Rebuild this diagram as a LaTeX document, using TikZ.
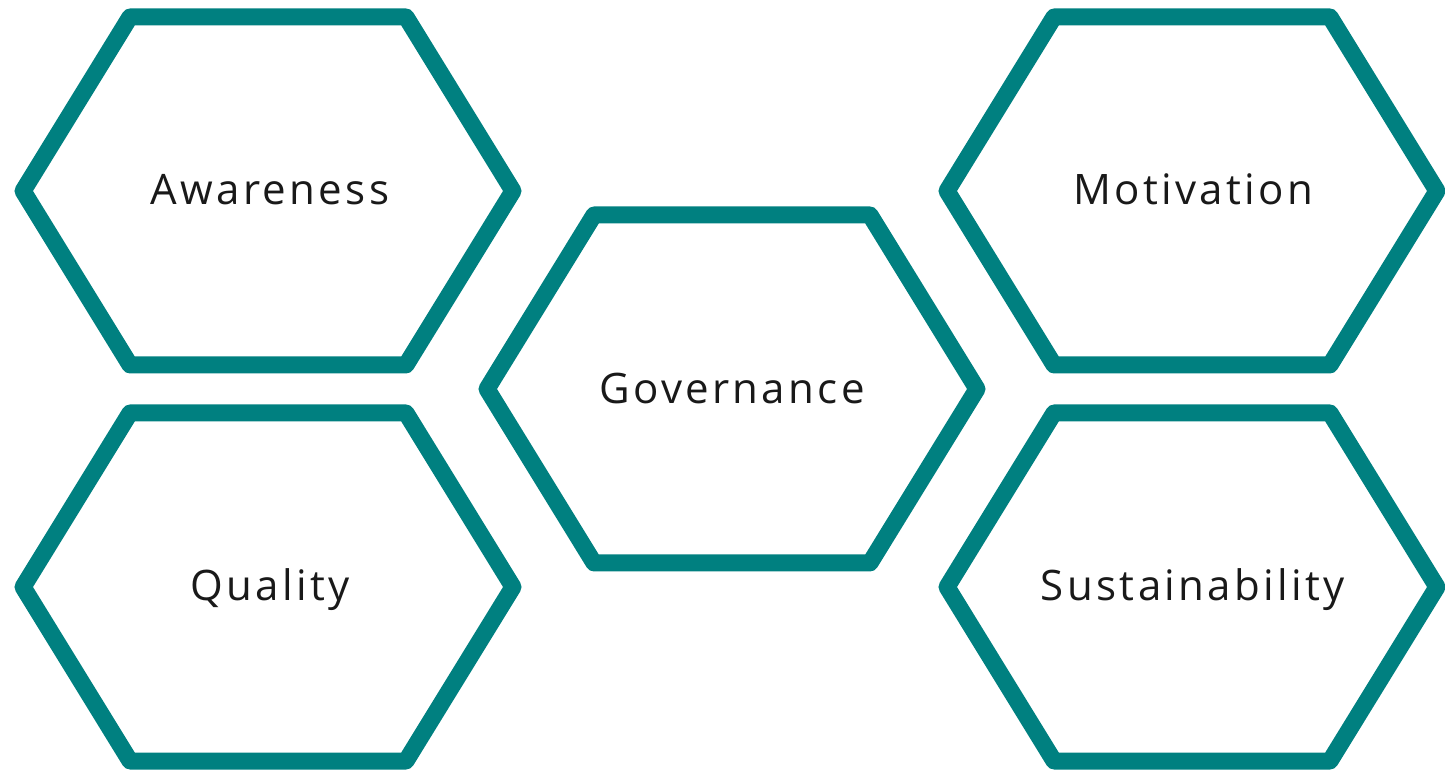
\documentclass[tikz,border=0pt]{standalone}
\usepackage{fontspec}
\setmainfont[LetterSpace=8]{Open Sans}
\definecolor{hexteal}{HTML}{008080}
\begin{document}
\begin{tikzpicture}[x=1pt, y=1pt,
        hexline/.style={draw=hexteal, line width=17pt, line join=round, fill=white},
        hexlabel/.style={font=\fontsize{42}{50}\selectfont, text=black!90, text height=30pt, text depth=0pt, inner sep=0pt}]
            \useasboundingbox (0, 0) rectangle (1445, 771);

            % left column
            \draw[hexline](23, 580) -- ++(107, 174) -- ++(276, 0) -- ++(107, -174) -- ++(-107, -174) -- ++(-276, 0) -- cycle;
            \draw[hexline](23, 184) -- ++(107, 174) -- ++(276, 0) -- ++(107, -174) -- ++(-107, -174) -- ++(-276, 0) -- cycle;

            % middle
            \draw[hexline](487, 382) -- ++(107, 174) -- ++(276, 0) -- ++(107, -174) -- ++(-107, -174) -- ++(-276, 0) -- cycle;

            % right column
            \draw[hexline](947, 580) -- ++(107, 174) -- ++(276, 0) -- ++(107, -174) -- ++(-107, -174) -- ++(-276, 0) -- cycle;
            \draw[hexline](947, 184) -- ++(107, 174) -- ++(276, 0) -- ++(107, -174) -- ++(-107, -174) -- ++(-276, 0) -- cycle;

            \node[hexlabel] at(270, 581)(aware){Awareness};
            \node[hexlabel] at(270, 185)(quality){Quality};
            \node[hexlabel] at(732, 382)(govern){Governance};
            \node[hexlabel] at(1193, 581)(motiv){Motivation};
            \node[hexlabel] at(1193, 185)(sustain){Sustainability};
\end{tikzpicture}
\end{document}
